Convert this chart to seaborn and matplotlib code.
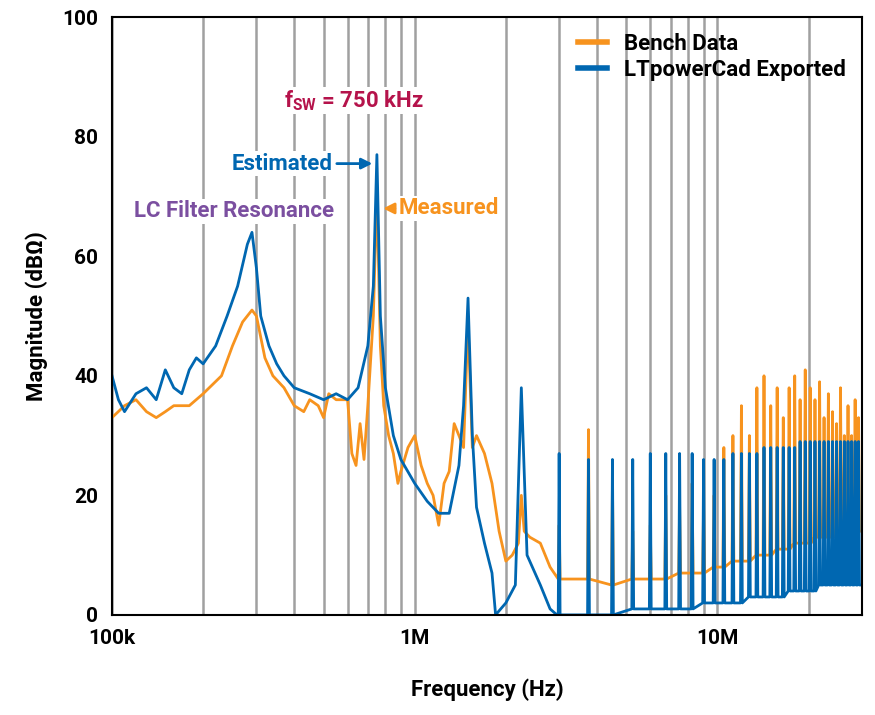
import numpy as np
import pandas as pd
import matplotlib
matplotlib.use("Agg")
import matplotlib.pyplot as plt
import seaborn as sns

plt.rcParams["font.family"] = "Roboto"
plt.rcParams["font.weight"] = "bold"

ORANGE = "#F7931E"
BLUE = "#0067B1"

# Bench data, low-frequency part (Hz, dBOhm)
bench_f = [100e3,110e3,120e3,130e3,140e3,150e3,160e3,180e3,200e3,230e3,250e3,270e3,290e3,300e3,320e3,340e3,
           370e3,400e3,430e3,450e3,480e3,500e3,520e3,550e3,600e3,620e3,640e3,660e3,680e3,700e3,730e3,750e3,
           770e3,790e3,820e3,850e3,880e3,900e3,950e3,1.0e6,1.05e6,1.1e6,1.15e6,1.2e6,1.25e6,1.3e6,1.35e6,
           1.4e6,1.45e6,1.5e6,1.55e6,1.6e6,1.7e6,1.8e6,1.9e6,2.0e6,2.1e6,2.2e6,2.25e6,2.3e6,2.4e6,2.6e6,2.8e6]
bench_m = [33,35,36,34,33,34,35,35,37,40,45,49,51,50,43,40,
           38,35,34,36,35,33,37,36,36,27,25,32,26,35,50,71,
           45,35,30,27,22,24,28,30,25,22,20,15,22,24,32,
           30,28,49,28,30,27,22,14,9,10,12,20,14,13,12,8]

# LTpowerCad exported, low-frequency part
ltpc_f = [100e3,105e3,110e3,120e3,130e3,140e3,150e3,160e3,170e3,180e3,190e3,200e3,220e3,240e3,260e3,280e3,
          290e3,300e3,310e3,330e3,350e3,370e3,400e3,450e3,500e3,550e3,600e3,650e3,700e3,730e3,750e3,770e3,
          800e3,850e3,900e3,1.0e6,1.1e6,1.2e6,1.3e6,1.4e6,1.45e6,1.5e6,1.55e6,1.6e6,1.7e6,1.8e6,1.85e6,
          2.0e6,2.15e6,2.25e6,2.35e6,2.6e6,2.8e6,2.95e6]
ltpc_m = [40,36,34,37,38,36,41,38,37,41,43,42,45,50,55,62,
          64,58,50,45,42,40,38,37,36,37,36,38,45,55,77,50,
          38,30,26,22,19,17,17,25,35,53,30,18,12,7,0,
          2,5,38,10,5,1,0]

# Harmonics of the 750 kHz switching frequency (MHz) and peak / floor values
harm_mhz = [3.0,3.75,4.5,5.25,6.0,6.75,7.5,8.25,9.0,9.75,10.5,11.25,12.0,12.75,13.5,14.25,15.0,15.75,16.5,
            17.25,18.0,18.75,19.5,20.25,21.0,21.75,22.5,23.25,24.0,24.75,25.5,26.25,27.0,27.75,28.5,29.25]
bench_peak = [15,31,22,14,15,20,18,22,18,20,28,30,35,30,38,40,35,38,33,
              38,40,36,41,38,36,39,33,37,34,32,38,30,35,30,36,33]
bench_floor = [6,6,5,6,6,6,7,7,7,8,8,9,9,9,10,10,10,11,11,
               11,12,12,12,12,13,13,13,13,13,14,14,14,13,14,14,14]
ltpc_peak = [27,26,26,26,27,27,27,27,26,26,26,27,27,27,27,28,28,28,28,
             28,28,29,29,29,29,29,29,29,29,29,29,29,29,29,29,29]
ltpc_floor = [0,0,0,1,1,1,1,1,2,2,2,2,2,3,3,3,3,3,3,
              4,4,4,4,4,4,5,5,5,5,5,5,5,5,5,5,5]

def build(f0, m0, peaks, floors):
    f = list(f0); m = list(m0)
    for h, p, b in zip(harm_mhz, peaks, floors):
        hz = h * 1e6
        f += [hz * 0.993, hz, hz * 1.007]
        m += [b, p, b]
    f.append(30e6); m.append(floors[-1])
    return f, m

bf, bm = build(bench_f, bench_m, bench_peak, bench_floor)
lf, lm = build(ltpc_f, ltpc_m, ltpc_peak, ltpc_floor)
df = pd.concat([
    pd.DataFrame({"f": bf, "m": bm, "s": "Bench Data"}),
    pd.DataFrame({"f": lf, "m": lm, "s": "LTpowerCad Exported"}),
], ignore_index=True)

fig = plt.figure(figsize=(8.75, 7.15), dpi=100)
ax = fig.add_axes([0.128, 0.140, 0.857, 0.836])
sns.lineplot(data=df, x="f", y="m", hue="s", estimator=None, sort=False,
             palette={"Bench Data": ORANGE, "LTpowerCad Exported": BLUE}, lw=2.0, ax=ax)
ax.set_xscale("log")
ax.set_xlim(100e3, 30e6)
ax.set_ylim(0, 100)
ax.set_xticks([1e5, 1e6, 1e7])
ax.set_xticklabels(["100k", "1M", "10M"])
ax.set_yticks([0, 20, 40, 60, 80, 100])
ax.xaxis.grid(True, which="both", color="#a0a0a0", lw=1.8)
ax.yaxis.grid(False)
ax.tick_params(which="both", length=0, labelsize=15, pad=10)
for s in ax.spines.values():
    s.set_linewidth(1.5)
ax.set_xlabel("Frequency (Hz)", fontsize=16, fontweight="bold", labelpad=22)
ax.set_ylabel("Magnitude (dBΩ)", fontsize=16, fontweight="bold", labelpad=10)

h, l = ax.get_legend_handles_labels()
leg = ax.legend(h, l, loc="upper right", frameon=False, fontsize=16, handlelength=1.3,
                borderaxespad=0.3, labelspacing=0.2)
for line in leg.get_lines():
    line.set_linewidth(4)

bbox = dict(facecolor="white", edgecolor="none", pad=1)
ax.text(6.3e5, 86, r"f$_{\mathregular{SW}}$ = 750 kHz", color="#B5134B", fontsize=16, ha="center",
        va="center", bbox=bbox, zorder=5)
ax.annotate("Estimated", xy=(7.4e5, 75.5), xytext=(3.65e5, 75.5), color=BLUE, fontsize=16,
            ha="center", va="center", bbox=bbox, zorder=5,
            arrowprops=dict(arrowstyle="-|>", color=BLUE, lw=2))
ax.annotate("Measured", xy=(7.7e5, 68), xytext=(1.3e6, 68), color=ORANGE, fontsize=16,
            ha="center", va="center", bbox=bbox, zorder=5,
            arrowprops=dict(arrowstyle="-|>", color=ORANGE, lw=2))
ax.text(2.53e5, 67.5, "LC Filter Resonance", color="#7B4FA0", fontsize=16, ha="center",
        va="center", bbox=bbox, zorder=5)

fig.savefig("out.png", dpi=100)
